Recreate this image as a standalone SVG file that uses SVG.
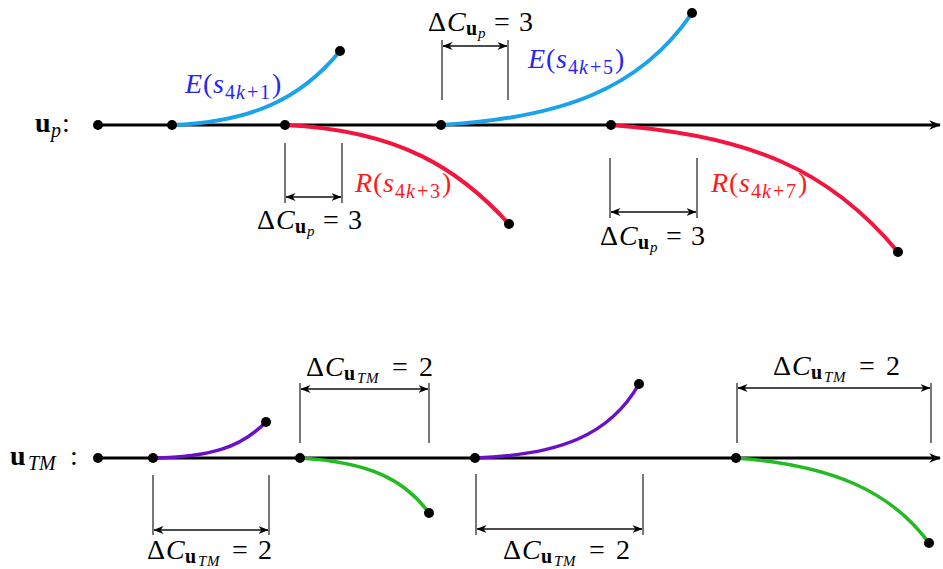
<svg xmlns="http://www.w3.org/2000/svg" width="943" height="569" viewBox="0 0 943 569">
<style>
.axis{stroke:#000;stroke-width:3;fill:none}
.dot{fill:#000}
.cE{stroke:#1aa3e8;stroke-width:4;fill:none}
.cR{stroke:#f2153f;stroke-width:4;fill:none}
.cP{stroke:#6a10c8;stroke-width:3.5;fill:none}
.cG{stroke:#22bb22;stroke-width:3.5;fill:none}
.tick{stroke:#555;stroke-width:1.6;fill:none}
.dim{stroke:#111;stroke-width:1.4;fill:none}
text{font-family:"Liberation Serif","DejaVu Serif",serif;font-size:28px;fill:#000}
.cl{font-size:28px}
.it{font-style:italic}
.b{font-weight:bold}
.s1{font-size:20px}
.s2{font-size:15px}
.lE{fill:#2626f0}
.lR{fill:#ff1a1a}
</style>
<defs>
<marker id="ah" viewBox="0 0 10 10" refX="9.5" refY="5" markerWidth="10" markerHeight="10" orient="auto-start-reverse" markerUnits="userSpaceOnUse">
<path d="M0,1 L10,5 L0,9 L3,5 Z" fill="#000"/>
</marker>
<marker id="ax" viewBox="0 0 10 10" refX="9" refY="5" markerWidth="4" markerHeight="4" orient="auto">
<path d="M0,1 L10,5 L0,9 L3,5 Z" fill="#000"/>
</marker>
</defs>

<g id="connectors">
<line class="axis" x1="98" y1="125" x2="940" y2="125" marker-end="url(#ax)"/>
<line class="axis" x1="98" y1="458" x2="940" y2="458" marker-end="url(#ax)"/>
<path class="cE" d="M172,125 C250,122 300,100 340,51"/>
<path class="cR" d="M285,125 C400,130 460,170 509,224"/>
<path class="cE" d="M441,125 C560,118 640,90 692,13"/>
<path class="cR" d="M611,125 C750,135 830,170 898,252"/>
<path class="cP" d="M153,458 C210,457 240,448 266,422"/>
<path class="cG" d="M300,458 C370,462 405,480 429,513"/>
<path class="cP" d="M475,458 C560,455 610,435 639,384"/>
<path class="cG" d="M736,458 C830,465 890,490 929,543"/>
</g>

<g id="dots">
<circle class="dot" cx="98" cy="125" r="5"/>
<circle class="dot" cx="172" cy="125" r="5"/>
<circle class="dot" cx="285" cy="125" r="5"/>
<circle class="dot" cx="441" cy="125" r="5"/>
<circle class="dot" cx="611" cy="125" r="5"/>
<circle class="dot" cx="340" cy="51" r="5"/>
<circle class="dot" cx="509" cy="224" r="5"/>
<circle class="dot" cx="692" cy="13" r="5"/>
<circle class="dot" cx="898" cy="252" r="5"/>
<circle class="dot" cx="98" cy="458" r="5"/>
<circle class="dot" cx="153" cy="458" r="5"/>
<circle class="dot" cx="300" cy="458" r="5"/>
<circle class="dot" cx="475" cy="458" r="5"/>
<circle class="dot" cx="736" cy="458" r="5"/>
<circle class="dot" cx="266" cy="422" r="5"/>
<circle class="dot" cx="429" cy="513" r="5"/>
<circle class="dot" cx="639" cy="384" r="5"/>
<circle class="dot" cx="929" cy="543" r="5"/>
</g>

<g id="label-up"><text y="132" font-size="28"><tspan class="b" x="35">u</tspan><tspan class="it s1" x="51" dy="5">p</tspan><tspan x="62" dy="-5">:</tspan></text></g>
<g id="label-utm"><text y="465" font-size="28"><tspan class="b" x="10">u</tspan><tspan class="it s1" x="28" dy="5">TM</tspan><tspan x="70" dy="-5">:</tspan></text></g>

<g id="curve-labels">
<text class="cl lE" y="93"><tspan class="it" x="185">E</tspan><tspan x="203">(</tspan><tspan class="it" x="213">s</tspan><tspan class="s1" dy="6" x="225">4</tspan><tspan class="s1 it" x="236">k</tspan><tspan class="s1" x="247">+</tspan><tspan class="s1" x="260">1</tspan><tspan x="272" dy="-6">)</tspan></text>
<text class="cl lR" y="192"><tspan class="it" x="355">R</tspan><tspan x="373">(</tspan><tspan class="it" x="383">s</tspan><tspan class="s1" dy="6" x="395">4</tspan><tspan class="s1 it" x="406">k</tspan><tspan class="s1" x="417">+</tspan><tspan class="s1" x="430">3</tspan><tspan x="442" dy="-6">)</tspan></text>
<text class="cl lE" y="68"><tspan class="it" x="528">E</tspan><tspan x="546">(</tspan><tspan class="it" x="556">s</tspan><tspan class="s1" dy="6" x="568">4</tspan><tspan class="s1 it" x="579">k</tspan><tspan class="s1" x="590">+</tspan><tspan class="s1" x="603">5</tspan><tspan x="615" dy="-6">)</tspan></text>
<text class="cl lR" y="192"><tspan class="it" x="711">R</tspan><tspan x="729">(</tspan><tspan class="it" x="739">s</tspan><tspan class="s1" dy="6" x="751">4</tspan><tspan class="s1 it" x="762">k</tspan><tspan class="s1" x="773">+</tspan><tspan class="s1" x="786">7</tspan><tspan x="798" dy="-6">)</tspan></text>
</g>

<g id="dim-top-up-1">
<line class="tick" x1="442" y1="40" x2="442" y2="100"/>
<line class="tick" x1="508" y1="40" x2="508" y2="100"/>
<line class="dim" x1="443" y1="46" x2="507" y2="46" marker-start="url(#ah)" marker-end="url(#ah)"/>
<text y="31"><tspan x="428">Δ</tspan><tspan class="it" x="447">C</tspan><tspan class="b s1" x="466" dy="4">u</tspan><tspan class="it s2" x="478" dy="3">p</tspan><tspan x="494" dy="-7">=</tspan><tspan x="519">3</tspan></text>
</g>
<g id="dim-top-up-2">
<line class="tick" x1="285" y1="143" x2="285" y2="203"/>
<line class="tick" x1="342" y1="143" x2="342" y2="203"/>
<line class="dim" x1="286" y1="197" x2="341" y2="197" marker-start="url(#ah)" marker-end="url(#ah)"/>
<text y="229"><tspan x="257">Δ</tspan><tspan class="it" x="276">C</tspan><tspan class="b s1" x="295" dy="4">u</tspan><tspan class="it s2" x="307" dy="3">p</tspan><tspan x="323" dy="-7">=</tspan><tspan x="348">3</tspan></text>
</g>
<g id="dim-top-up-3">
<line class="tick" x1="610" y1="158" x2="610" y2="218"/>
<line class="tick" x1="697" y1="158" x2="697" y2="218"/>
<line class="dim" x1="611" y1="212" x2="696" y2="212" marker-start="url(#ah)" marker-end="url(#ah)"/>
<text y="245"><tspan x="600">Δ</tspan><tspan class="it" x="619">C</tspan><tspan class="b s1" x="638" dy="4">u</tspan><tspan class="it s2" x="650" dy="3">p</tspan><tspan x="666" dy="-7">=</tspan><tspan x="691">3</tspan></text>
</g>

<g id="dim-tm-1">
<line class="tick" x1="153" y1="475" x2="153" y2="535"/>
<line class="tick" x1="269" y1="475" x2="269" y2="535"/>
<line class="dim" x1="154" y1="530" x2="268" y2="530" marker-start="url(#ah)" marker-end="url(#ah)"/>
<text y="559"><tspan x="147">Δ</tspan><tspan class="it" x="166">C</tspan><tspan class="b s1" x="185" dy="4">u</tspan><tspan class="it s2" x="198" dy="3">T</tspan><tspan class="it s2" x="207">M</tspan><tspan x="232" dy="-7">=</tspan><tspan x="258">2</tspan></text>
</g>
<g id="dim-tm-2">
<line class="tick" x1="300" y1="383" x2="300" y2="443"/>
<line class="tick" x1="429" y1="383" x2="429" y2="443"/>
<line class="dim" x1="301" y1="389" x2="428" y2="389" marker-start="url(#ah)" marker-end="url(#ah)"/>
<text y="376"><tspan x="306">Δ</tspan><tspan class="it" x="325">C</tspan><tspan class="b s1" x="344" dy="4">u</tspan><tspan class="it s2" x="357" dy="3">T</tspan><tspan class="it s2" x="366">M</tspan><tspan x="392" dy="-7">=</tspan><tspan x="419">2</tspan></text>
</g>
<g id="dim-tm-3">
<line class="tick" x1="476" y1="474" x2="476" y2="535"/>
<line class="tick" x1="643" y1="474" x2="643" y2="535"/>
<line class="dim" x1="477" y1="529" x2="642" y2="529" marker-start="url(#ah)" marker-end="url(#ah)"/>
<text y="559"><tspan x="503">Δ</tspan><tspan class="it" x="522">C</tspan><tspan class="b s1" x="541" dy="4">u</tspan><tspan class="it s2" x="554" dy="3">T</tspan><tspan class="it s2" x="563">M</tspan><tspan x="589" dy="-7">=</tspan><tspan x="616">2</tspan></text>
</g>
<g id="dim-tm-4">
<line class="tick" x1="737" y1="383" x2="737" y2="443"/>
<line class="tick" x1="931" y1="383" x2="931" y2="443"/>
<line class="dim" x1="738" y1="388" x2="930" y2="388" marker-start="url(#ah)" marker-end="url(#ah)"/>
<text y="375"><tspan x="773">Δ</tspan><tspan class="it" x="792">C</tspan><tspan class="b s1" x="811" dy="4">u</tspan><tspan class="it s2" x="824" dy="3">T</tspan><tspan class="it s2" x="833">M</tspan><tspan x="859" dy="-7">=</tspan><tspan x="886">2</tspan></text>
</g>
</svg>
